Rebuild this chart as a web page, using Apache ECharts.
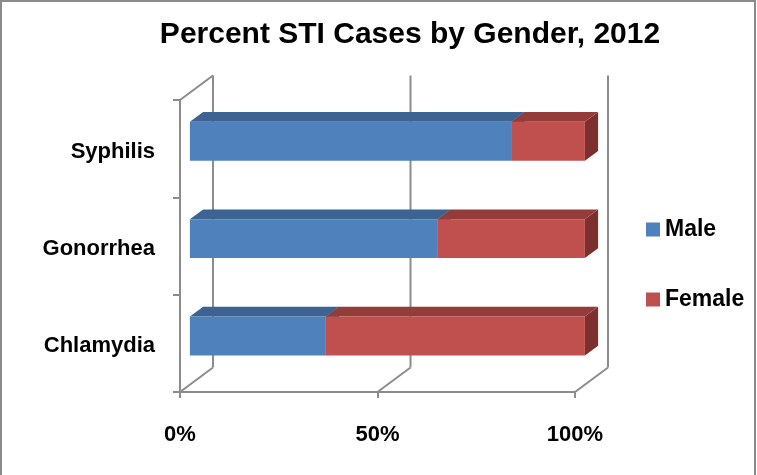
<!DOCTYPE html>
<html>
<head>
<meta charset="utf-8">
<script src="https://cdn.jsdelivr.net/npm/echarts@6/dist/echarts.min.js"></script>
<style>
  html, body { margin: 0; padding: 0; background: #fff; }
  #chart { width: 757px; height: 475px; }
</style>
</head>
<body>
<div id="chart"></div>
<script>
const categories = ['Chlamydia', 'Gonorrhea', 'Syphilis'];
const maleValues = [34.4, 62.7, 81.4];
const femaleValues = [65.6, 37.3, 18.6];
const xTicks = [0, 50, 100];

// 3d look: offset of the back wall from the front plane
const DX = 33;
const DY = -24.5;
const BAR_FRONT = 0.3;
const BAR_BACK = 0.7;
const GRID_COLOR = '#8c8c8c';

const myChart = echarts.init(document.getElementById('chart'));

const makeBarRender = (front, top, side) => (params, api) => {
  const cat = api.value(0);
  const p0 = api.coord([api.value(1), cat]);
  const p1 = api.coord([api.value(2), cat]);
  const h = api.size([0, 1])[1] * 0.4;
  const fx = BAR_FRONT * DX, fy = BAR_FRONT * DY;
  const bx = (BAR_BACK - BAR_FRONT) * DX, by = (BAR_BACK - BAR_FRONT) * DY;
  const x0 = p0[0] + fx, x1 = p1[0] + fx;
  const yt = p0[1] + fy - h / 2, yb = p0[1] + fy + h / 2;
  return {
    type: 'group',
    children: [
      { type: 'polygon', shape: { points: [[x1, yt], [x1 + bx, yt + by], [x1 + bx, yb + by], [x1, yb]] }, style: { fill: side } },
      { type: 'polygon', shape: { points: [[x0, yt], [x1, yt], [x1 + bx, yt + by], [x0 + bx, yt + by]] }, style: { fill: top } },
      { type: 'rect', shape: { x: x0, y: yt, width: x1 - x0, height: yb - yt }, style: { fill: front } }
    ]
  };
};

const wallRender = (params, api) => {
  const cs = params.coordSys;
  const v = api.value(0);
  const x = api.coord([v, 0])[0];
  const yFloor = cs.y + cs.height;
  const yTop = cs.y;
  const st = { stroke: GRID_COLOR, lineWidth: 2, fill: null };
  const children = [
    { type: 'line', shape: { x1: x, y1: yFloor, x2: x + DX, y2: yFloor + DY }, style: st },
    { type: 'line', shape: { x1: x + DX, y1: yFloor + DY, x2: x + DX, y2: yTop + DY }, style: st }
  ];
  if (v === 0) {
    children.push({ type: 'line', shape: { x1: x, y1: yTop, x2: x + DX, y2: yTop + DY }, style: st });
  }
  return { type: 'group', children: children };
};

const option = {
  animation: false,
  title: {
    text: 'Percent STI Cases by Gender, 2012',
    left: 405,
    textAlign: 'center',
    top: 15,
    textStyle: { fontFamily: 'Liberation Sans', fontSize: 30, fontWeight: 'bold', color: '#000' }
  },
  graphic: [
    {
      type: 'rect',
      shape: { x: 1, y: 1, width: 754, height: 490 },
      style: { fill: null, stroke: '#8a8a8a', lineWidth: 2 },
      silent: true
    }
  ],
  legend: {
    data: ['Male', 'Female'],
    orient: 'vertical',
    left: 641,
    top: 213,
    icon: 'rect',
    itemWidth: 14,
    itemHeight: 14,
    itemGap: 47,
    textStyle: { fontFamily: 'Liberation Sans', fontSize: 23, fontWeight: 'bold', color: '#000' }
  },
  grid: { left: 180, top: 100, width: 395, height: 292 },
  xAxis: {
    type: 'value',
    min: 0,
    max: 100,
    interval: 50,
    axisLine: { show: true, lineStyle: { color: GRID_COLOR, width: 2 } },
    axisTick: { show: true, length: 6, lineStyle: { color: GRID_COLOR, width: 2 } },
    splitLine: { show: false },
    axisLabel: {
      formatter: '{value}%',
      margin: 32,
      fontFamily: 'Liberation Sans', fontSize: 22, fontWeight: 'bold', color: '#000'
    }
  },
  yAxis: {
    type: 'category',
    data: categories,
    axisLine: { show: true, lineStyle: { color: GRID_COLOR, width: 2 } },
    axisTick: { show: true, length: 7, lineStyle: { color: GRID_COLOR, width: 2 } },
    axisLabel: {
      margin: 25,
      formatter: '{a|{value}}',
      rich: {
        a: {
          padding: [6, 0, 0, 0],
          fontFamily: 'Liberation Sans', fontSize: 22, fontWeight: 'bold', color: '#000'
        }
      }
    }
  },
  series: [
    {
      name: 'walls',
      type: 'custom',
      silent: true,
      z: 1,
      renderItem: wallRender,
      data: xTicks.map(v => [v])
    },
    {
      name: 'Male',
      type: 'custom',
      z: 2,
      itemStyle: { color: '#4F81BD' },
      renderItem: makeBarRender('#4F81BD', '#3D6392', '#385D8A'),
      data: categories.map((c, i) => [i, 0, maleValues[i]])
    },
    {
      name: 'Female',
      type: 'custom',
      z: 3,
      itemStyle: { color: '#C0504D' },
      renderItem: makeBarRender('#C0504D', '#943C3A', '#7B302E'),
      data: categories.map((c, i) => [i, maleValues[i], maleValues[i] + femaleValues[i]])
    }
  ]
};

myChart.setOption(option);
</script>
</body>
</html>
